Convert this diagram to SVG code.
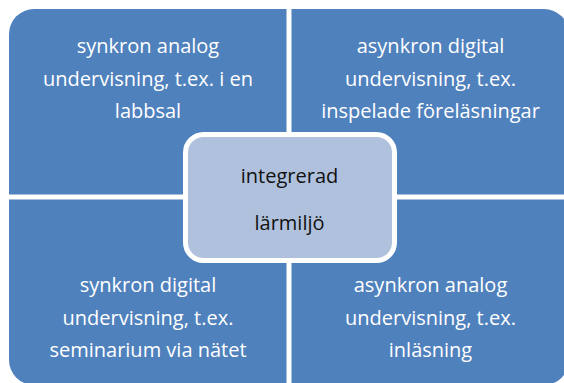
<svg xmlns="http://www.w3.org/2000/svg" width="564" height="383" viewBox="0 0 564 383">
<style>
.q{fill:#4F81BD}
.qt{font-family:"Open Sans","Noto Sans",sans-serif;font-size:20px;fill:#FFFFFF;text-anchor:middle}
.c{fill:#B0C1DD;stroke:#FFFFFF;stroke-width:5}
.ct{font-family:"Open Sans","Noto Sans",sans-serif;font-size:20px;fill:#111111;text-anchor:middle}
</style>
<rect width="564" height="383" fill="#FFFFFF"/>
<g id="q-top-left">
<path class="q" d="M9,194.5 V34 A25,25 0 0 1 34,9 H286.5 V194.5 Z"/>
<text class="qt" x="148" y="53">synkron analog</text>
<text class="qt" x="148" y="85.5">undervisning, t.ex. i en</text>
<text class="qt" x="148" y="118">labbsal</text>
</g>
<g id="q-top-right">
<path class="q" d="M291.5,9 H544 A25,25 0 0 1 569,34 V194.5 H291.5 Z"/>
<text class="qt" x="430.5" y="53">asynkron digital</text>
<text class="qt" x="430.5" y="85.5">undervisning, t.ex.</text>
<text class="qt" x="430.5" y="118">inspelade föreläsningar</text>
</g>
<g id="q-bottom-left">
<path class="q" d="M9,199.5 H286.5 V385 H34 A25,25 0 0 1 9,360 Z"/>
<text class="qt" x="148" y="292">synkron digital</text>
<text class="qt" x="148" y="324.5">undervisning, t.ex.</text>
<text class="qt" x="148" y="357">seminarium via nätet</text>
</g>
<g id="q-bottom-right">
<path class="q" d="M291.5,199.5 H569 V360 A25,25 0 0 1 544,385 H291.5 Z"/>
<text class="qt" x="430.5" y="292">asynkron analog</text>
<text class="qt" x="430.5" y="324.5">undervisning, t.ex.</text>
<text class="qt" x="430.5" y="357">inläsning</text>
</g>
<g id="center">
<rect class="c" x="185.5" y="134.5" width="209" height="126" rx="18" ry="18"/>
<text class="ct" x="289.5" y="183">integrerad</text>
<text class="ct" x="289.5" y="230">lärmiljö</text>
</g>
<g id="connectors"/>
</svg>
